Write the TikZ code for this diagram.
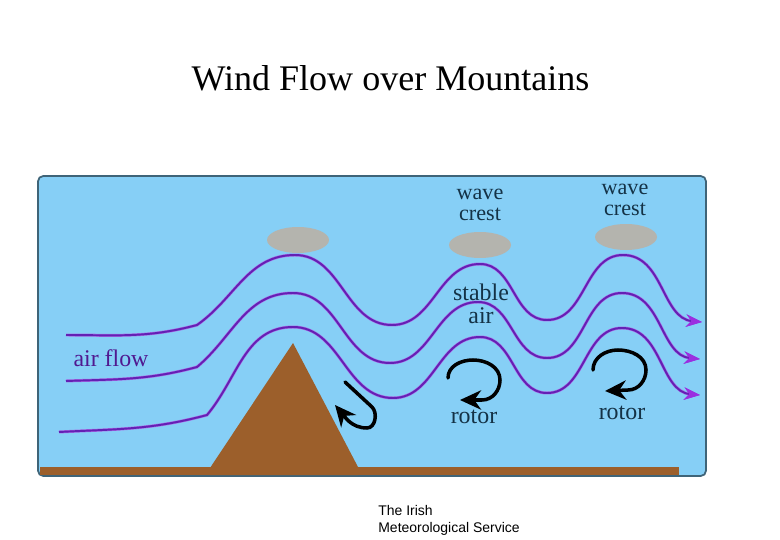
\documentclass[tikz,border=0pt]{standalone}
\usepackage{fontspec}
\setmainfont{Liberation Serif}
\newfontfamily\creditfont{Liberation Sans}
\definecolor{skyblue}{HTML}{86CFF6}
\definecolor{paneledge}{HTML}{3F6478}
\definecolor{earth}{HTML}{9C5F2B}
\definecolor{flowpurple}{HTML}{6420B4}
\definecolor{flowhalo}{HTML}{A86CE6}
\definecolor{flowtip}{HTML}{9A2FE0}
\definecolor{cloudgrey}{HTML}{B4B4AE}
\definecolor{labelink}{HTML}{143246}
\usetikzlibrary{arrows.meta,shapes.geometric}
\begin{document}
\begin{tikzpicture}[
    x=0.02cm, y=-0.02cm,
    >=stealth,
    flowline/.style={draw=flowpurple, line width=1.1pt, -{Stealth[length=9pt,width=7pt,color=flowtip]},
        preaction={draw=flowhalo, line width=1.7pt}},
    rotorline/.style={draw=black, line width=2pt, line cap=round, -{Stealth[length=12pt,width=11pt]}},
    cloud/.style={ellipse, fill=cloudgrey, minimum width=1.24cm, minimum height=0.52cm, inner sep=0pt},
    chartlabel/.style={text=labelink, font=\fontsize{13.6}{13}\selectfont, align=center, inner sep=0pt},
    cresttext/.style={text=labelink, font=\fontsize{12.6}{12}\selectfont, align=center, inner sep=0pt}
]
\useasboundingbox (0,0) rectangle (780,540);
\fill[white] (0,0) rectangle (780,540);

\node[font=\fontsize{20.5}{22}\selectfont, inner sep=0pt] (title) at (390.5,78) {Wind Flow over Mountains};

% panel and ground
\draw[paneledge, fill=skyblue, line width=1pt, rounded corners=3pt] (38,176) rectangle (706,476);
\fill[earth] (40,467) rectangle (679,475);
\fill[earth] (293,343) -- (358,467) -- (358,475) -- (210,475) -- (210,468) -- cycle;

% clouds
\node[cloud] (cloud1) at (298,240) {};
\node[cloud] (cloud2) at (480,245) {};
\node[cloud] (cloud3) at (626,237) {};

% air flow
\draw[flowline] (66,335) to[out=0,in=195] (197,325) to[out=35,in=180] (295,255) to[out=0,in=180] (392,325)
    to[out=0,in=180] (480,264) to[out=0,in=180] (547,320) to[out=0,in=180] (623,255) to[out=0,in=175] (702,322);
\draw[flowline] (66,381) to[out=2,in=195] (197,367) to[out=40,in=180] (293,293) to[out=0,in=180] (390,363)
    to[out=0,in=180] (478,302) to[out=0,in=180] (547,358) to[out=0,in=180] (622,293) to[out=0,in=175] (700,359);
\draw[flowline] (59,432) to[out=3,in=195] (207,415) to[out=50,in=180] (293,327) to[out=0,in=180] (393,398)
    to[out=0,in=180] (480,337) to[out=0,in=180] (547,393) to[out=0,in=180] (622,328) to[out=0,in=175] (700,395);

% rotors
\draw[rotorline] (345,382) -- (372,407) to[out=-45,in=0] (367,428) to[out=180,in=-50] (335,405);
\draw[rotorline] (448,378) to[out=90,in=180] (473,360) to[out=0,in=90] (500,380) to[out=-90,in=0] (482,400) -- (460,400);
\draw[rotorline] (593,370) to[out=90,in=180] (618,350) to[out=0,in=90] (646,370) to[out=-90,in=0] (628,390) -- (605,391);

% labels
\node[cresttext] (crest1) at (480,205) {wave\\crest};
\node[cresttext] (crest2) at (625,200) {wave\\crest};
\node[chartlabel] (stable) at (481,304) {stable\\air};
\node[chartlabel, text=flowpurple!80!black] (airflow) at (111,358) {air flow};
\node[chartlabel] (rotor1) at (474,417) {rotor};
\node[chartlabel] (rotor2) at (622,413) {rotor};
\node[font=\creditfont\fontsize{7.95}{9.6}\selectfont, align=left, inner sep=0pt, anchor=north west] (credit) at (378,505) {The Irish\\Meteorological Service};
\end{tikzpicture}
\end{document}
